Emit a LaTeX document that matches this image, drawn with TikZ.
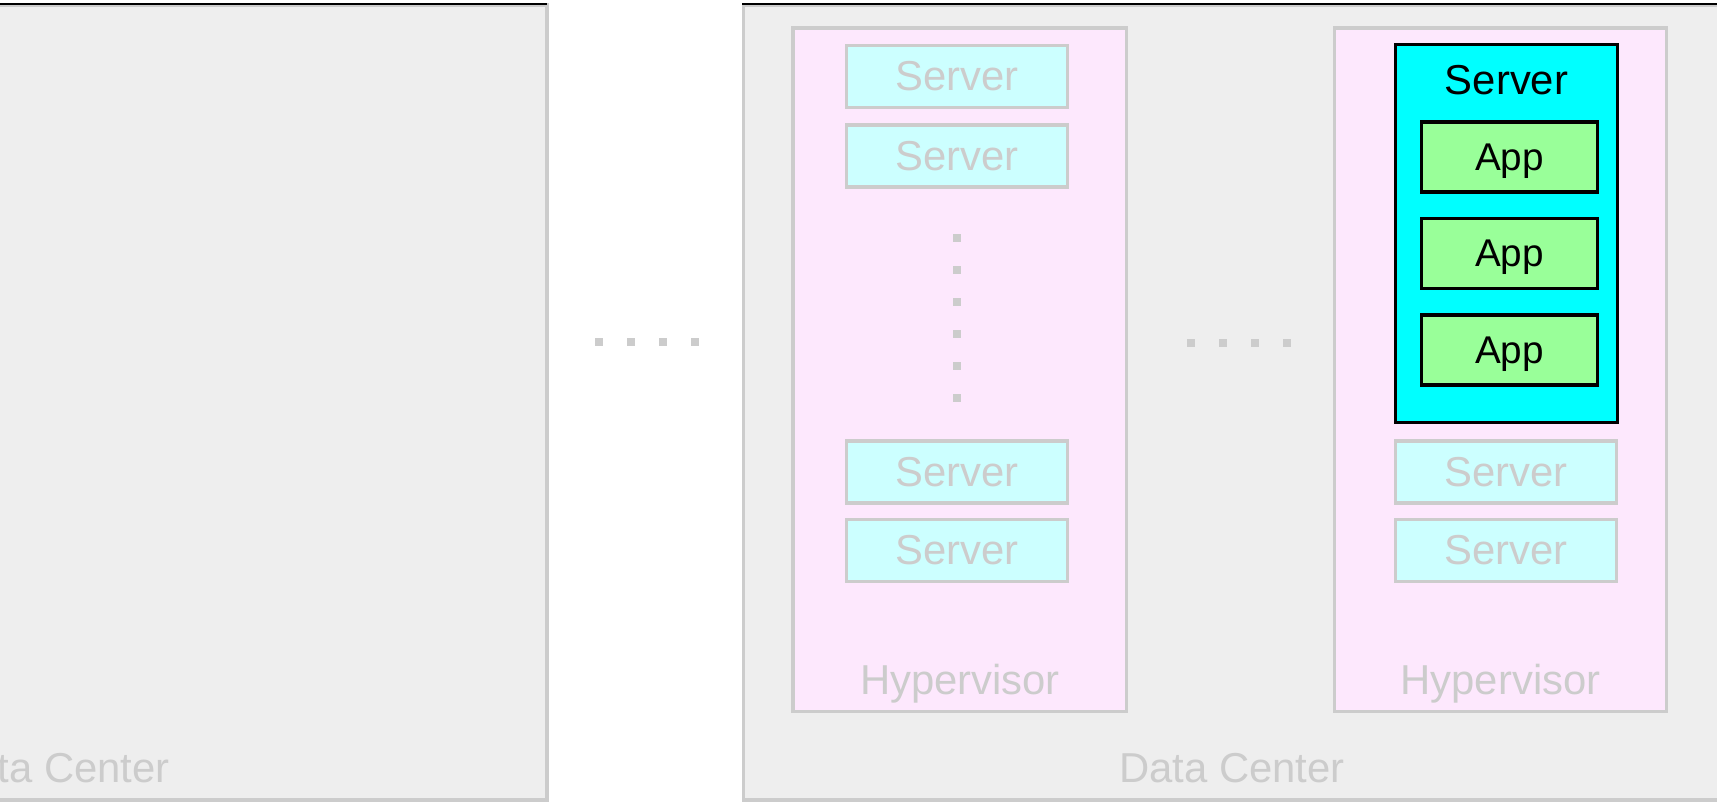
\documentclass[tikz,border=0pt]{standalone}
\usepackage{fontspec}
\setmainfont{Liberation Sans}
\usepackage{tikz}
\usetikzlibrary{positioning, calc}

\definecolor{colDC}{RGB}{238, 238, 238}
\definecolor{colLine}{RGB}{204, 204, 204}
\definecolor{colPink}{RGB}{253, 232, 253}
\definecolor{colCyanLt}{RGB}{204, 255, 255}
\definecolor{colCyan}{RGB}{0, 255, 255}
\definecolor{colGreen}{RGB}{153, 255, 153}

\begin{document}
\begin{tikzpicture}[x=0.2mm, y=-0.2mm,
    every node/.style={font=\fontsize{23.8}{28}\selectfont, inner sep=0pt, text height=16.4pt, text depth=0pt},
    srvbox/.style={draw=colLine, fill=colCyanLt, text=colLine, line width=1.9pt,
        minimum width=44.2mm, minimum height=12.4mm},
    hostbox/.style={draw=black, fill=colCyan, line width=1.9pt,
        minimum width=44.4mm, minimum height=75.6mm},
    appbox/.style={draw=black, fill=colGreen, line width=1.9pt,
        minimum width=35.2mm, minimum height=14mm,
        font=\fontsize{22}{26}\selectfont, text height=15.2pt},
    faint/.style={text=colLine}
]
    \clip (0, 0) rectangle (1717, 802);

    % --- Data Center (left, cut off) ---
    \draw[fill=colDC, draw=colLine, line width=1.9pt] (-433, 5) rectangle (547, 800);
    \draw[line width=0.6pt] (-433, 4) -- (547, 4);
    \node[faint] (dcA) at (57, 768.5) {Data Center};

    % dots between the data centers
    \foreach \x in {599, 631, 663, 695} {
        \fill[colLine] (\x-4, 338) rectangle (\x+4, 346);
    }

    % --- Data Center (right) ---
    \draw[fill=colDC, draw=colLine, line width=1.9pt] (743.5, 5) rectangle (1722, 800);
    \draw[line width=0.6pt] (742, 4) -- (1722, 4);
    \node[faint] (dcB) at (1232, 768.5) {Data Center};

    % --- Hypervisor 1 ---
    \draw[fill=colPink, draw=colLine, line width=1.9pt] (793, 28) rectangle (1126.5, 711.5);
    \node[faint] (hypA) at (960, 680.5) {Hypervisor};
    \foreach \y/\n in {76.5/1, 156/2, 472/3, 550.5/4} {
        \node[srvbox] (srvA\n) at (957, \y) {Server};
    }
    \foreach \y in {238, 270, ..., 398} {
        \fill[colLine] (953, \y-4) rectangle (961, \y+4);
    }

    % dots between the hypervisors
    \foreach \x in {1191, 1223, 1255, 1287} {
        \fill[colLine] (\x-4, 339) rectangle (\x+4, 347);
    }

    % --- Hypervisor 2 ---
    \draw[fill=colPink, draw=colLine, line width=1.9pt] (1334.5, 28) rectangle (1666.5, 711.5);
    \node[faint] (hypB) at (1500.5, 680.5) {Hypervisor};

    % server with the apps
    \node[hostbox] (host) at (1506.5, 233.5) {};
    \node (hostlbl) at (1506.5, 80) {Server};
    \foreach \y/\n in {157/1, 253.5/2, 350/3} {
        \node[appbox] (app\n) at (1509.5, \y) {App};
    }
    \foreach \y/\n in {472/3, 550.5/4} {
        \node[srvbox] (srvB\n) at (1506, \y) {Server};
    }

\end{tikzpicture}
\end{document}
